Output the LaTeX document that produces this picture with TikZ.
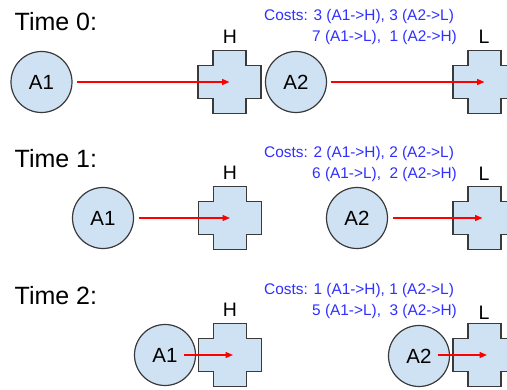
\documentclass[tikz,border=0pt]{standalone}
\usepackage{fontspec}
\setmainfont{Liberation Sans}
\usetikzlibrary{arrows.meta,calc}
\definecolor{shapefill}{HTML}{CFE2F3}
\definecolor{shapeline}{HTML}{3A3A3A}
\definecolor{costblue}{RGB}{48,48,255}
\definecolor{arrred}{RGB}{255,0,0}
\tikzset{
  agent/.style={circle, minimum size=61pt, inner sep=0pt, draw=shapeline, line width=1.2pt, fill=shapefill, font=\fontsize{20.5}{24}\selectfont},
  crossbox/.style={minimum width=63pt, minimum height=63pt, inner sep=0pt},
  crossline/.style={draw=shapeline, line width=1.2pt, fill=shapefill},
  tgtlabel/.style={inner sep=0pt, font=\fontsize{19.5}{22}\selectfont},
  timelabel/.style={anchor=base west, inner sep=0pt, font=\fontsize{25}{28}\selectfont},
  costtext/.style={anchor=base west, inner sep=0pt, text=costblue, font=\fontsize{15.4}{18}\selectfont},
  moveto/.style={color=arrred, line width=1.3pt, -{Triangle[length=7.5pt,width=6pt]}}
}
\newcommand{\targetcross}[2]{%
  \node[crossbox] (#1) at (#2) {};
  \draw[crossline] (#1.center) ++(-16.5,-31.5) -- ++(33,0) -- ++(0,15) -- ++(15,0) -- ++(0,33) -- ++(-15,0) -- ++(0,15) -- ++(-33,0) -- ++(0,-15) -- ++(-15,0) -- ++(0,-33) -- ++(15,0) -- cycle;
}
\begin{document}
\begin{tikzpicture}[x=1pt,y=-1pt]
\clip (0,0) rectangle (507,390);
\fill[white] (0,0) rectangle (507,390);

% ---------- Time 0 ----------
\node[timelabel] (t0) at (14.5,31) {Time 0:};
\node[costtext] (c0a) at (264,21) {Costs: 3 (A1->H), 3 (A2->L)};
\node[costtext] (c0b) at (312,42) {7 (A1->L),\ \ 1 (A2->H)};
\targetcross{H0}{229.5,82}
\targetcross{L0}{484.5,82}
\node[tgtlabel] (H0lbl) at (230,36.5) {H};
\node[tgtlabel] (L0lbl) at (484,37) {L};
\node[agent] (A10) at (41.5,82) {A1};
\node[agent] (A20) at (296,82) {A2};
\draw[moveto] ([xshift=4pt]A10.east) -- (H0.center);
\draw[moveto] ([xshift=3.5pt]A20.east) -- (L0.center);

% ---------- Time 1 ----------
\node[timelabel] (t1) at (14.5,168) {Time 1:};
\node[costtext] (c1a) at (264,158) {Costs: 2 (A1->H), 2 (A2->L)};
\node[costtext] (c1b) at (312,179) {6 (A1->L),\ \ 2 (A2->H)};
\targetcross{H1}{230,218}
\targetcross{L1}{484.5,218}
\node[tgtlabel] (H1lbl) at (230,172.5) {H};
\node[tgtlabel] (L1lbl) at (484,174) {L};
\node[agent] (A11) at (103,218) {A1};
\node[agent] (A21) at (357,218) {A2};
\draw[moveto] ([xshift=4.5pt]A11.east) -- (H1.center);
\draw[moveto] ([xshift=4.5pt]A21.east) -- ([xshift=-2pt]L1.center);

% ---------- Time 2 ----------
\node[timelabel] (t2) at (14.5,304.5) {Time 2:};
\node[costtext] (c2a) at (264,295) {Costs: 1 (A1->H), 1 (A2->L)};
\node[costtext] (c2b) at (312,316) {5 (A1->L),\ \ 3 (A2->H)};
\targetcross{H2}{230,355}
\targetcross{L2}{484.5,355}
\node[tgtlabel] (H2lbl) at (230,310) {H};
\node[tgtlabel] (L2lbl) at (484,313) {L};
\node[agent] (A12) at (165,355) {A1};
\node[agent] (A22) at (419,356) {A2};
\draw[moveto] ([xshift=-12.5pt]A12.east) -- ([xshift=3pt]H2.center);
\draw[moveto] ([xshift=-12.5pt]A22.east |- L2.center) -- ([xshift=2.5pt]L2.center);
\end{tikzpicture}
\end{document}
